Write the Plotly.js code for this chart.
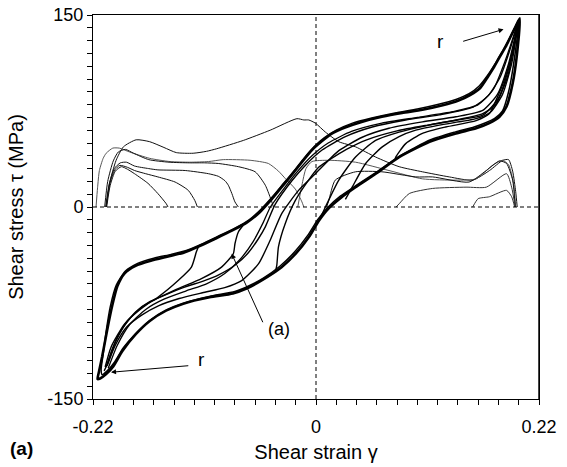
<!DOCTYPE html>
<html>
<head>
<meta charset="utf-8">
<script src="https://cdn.plot.ly/plotly-3.0.1.min.js"></script>
<style>html,body{margin:0;padding:0;background:#fff;}#chart{width:567px;height:467px;}</style>
</head>
<body>
<div id="chart"></div>
<script>
// ---- tick definitions ----
const xTickVals = [-0.22,-0.20,-0.18,-0.16,-0.14,-0.12,-0.10,-0.08,-0.06,-0.04,-0.02,0,0.02,0.04,0.06,0.08,0.10,0.12,0.14,0.16,0.18,0.20,0.22];
const xTickText = ['-0.22','','','','','','','','','','','0','','','','','','','','','','','0.22'];
const yTickVals = [-150,-140,-130,-120,-110,-100,-90,-80,-70,-60,-50,-40,-30,-20,-10,0,10,20,30,40,50,60,70,80,90,100,110,120,130,140,150];
const yTickText = ['-150','','','','','','','','','','','','','','','0','','','','','','','','','','','','','','','150'];

// ---- outer hysteresis loop, cycle A (shear strain, shear stress) ----
const loopA_x = [0.201,0.197,0.192,0.187,0.181,0.175,0.169,0.162,0.152,0.14,0.125,0.105,0.085,0.065,0.045,0.03,0.016,0.006,-0.004,-0.014,-0.025,-0.035,-0.045,-0.056,-0.068,-0.083,-0.1,-0.116,-0.13,-0.145,-0.163,-0.178,-0.189,-0.196,-0.201,-0.206,-0.211,-0.2145,-0.2155,-0.213,
  -0.207,-0.2,-0.191,-0.178,-0.164,-0.148,-0.131,-0.105,-0.082,-0.068,-0.054,-0.034,-0.02,-0.007,0.003,0.0125,0.025,0.039,0.059,0.082,0.112,0.138,0.158,0.171,0.181,0.188,0.194,0.198,0.201];
const loopA_y = [147.5,141,133,125,117,108.5,101,93,87.5,83,79.5,76,73.5,70.5,66.5,62.5,57.5,51.5,44.5,35,24,14.5,5,-4.5,-12,-18.5,-25,-31,-35.5,-38.5,-42,-46,-52,-62,-77,-96,-117,-130,-134.5,-134,
  -130.5,-124.5,-112.5,-99.5,-89,-81,-75.5,-70.5,-67.5,-63.5,-57.5,-47,-36.5,-23.5,-10.5,-1,7.5,15.5,26,39,51,57.5,61.5,65.5,70.5,78.5,96.5,117.5,147.5];

// ---- outer loop, cycle B ----
const loopB_x = [0.2,0.195,0.189,0.183,0.176,0.169,0.161,0.151,0.138,0.12,0.1,0.078,0.055,0.036,0.02,0.008,-0.002,-0.012,-0.022,-0.033,-0.043,-0.054,-0.066,-0.08,-0.097,-0.113,-0.128,-0.143,-0.16,-0.176,-0.188,-0.197,-0.203,-0.207,-0.21,-0.212,-0.211,
  -0.206,-0.199,-0.19,-0.176,-0.162,-0.146,-0.128,-0.103,-0.08,-0.066,-0.052,-0.036,-0.021,-0.008,0.002,0.012,0.024,0.04,0.06,0.084,0.113,0.137,0.156,0.168,0.176,0.184,0.19,0.195,0.2];
const loopB_y = [146,138.5,129,120.5,111,102.5,94.5,88.5,84,80,76.5,73.5,69.5,65.5,60,54,47,38,28,17.5,8,-1.5,-10,-16.5,-23,-29,-34,-37,-40,-44,-50,-61,-78,-97,-115,-127,-131,
  -128,-121.5,-110,-97.5,-87.5,-80,-74.5,-69.5,-66,-61.5,-55.5,-46.5,-35,-22,-9.5,0,8.5,17,27.5,40.5,52.5,58.5,62.5,66,69,75,90,112,146];

// ---- inner reloading / unloading curves ----
const in1_x = [-0.207,-0.2005,-0.191,-0.178,-0.164,-0.148,-0.131,-0.11,-0.096,-0.08,-0.067,-0.057,-0.05,-0.0403,-0.0238,-0.0106,0.006,0.029,0.0555,0.0885,0.1216,0.155,0.17,0.182,0.191,0.2];
const in1_y = [-125,-110,-95,-82,-74,-68.5,-63,-57.5,-53,-45.5,-36,-25,-15.5,2,20.5,32.5,44.5,55,62.5,68,72,78,87,102,122,146];
const in2_x = [-0.206,-0.198,-0.187,-0.172,-0.155,-0.135,-0.112,-0.09,-0.0733,-0.0568,-0.0452,-0.0337,-0.0172,-0.0006,0.0225,0.0456,0.072,0.105,0.138,0.1645,0.179,0.19,0.2];
const in2_y = [-124,-108,-94,-84.5,-77,-71.5,-67,-63,-57.5,-44.5,-26,-5,13,26,44,54.5,61.5,66.5,70.5,75.5,88,112,146];
const in3_x = [0.004,0.0093,0.0225,0.039,0.0588,0.082,0.1116,0.138,0.1645,0.177,0.189,0.2];
const in3_y = [-9,0,21,39,52,58.5,64,68,73,80,102,146];
const in4_x = [0.029,0.0357,0.049,0.0654,0.082,0.0984,0.1216,0.158,0.172,0.184,0.193,0.2];
const in4_y = [6,15.5,34,47,55,60,64,69,74,88,112,146];
const in5_x = [0.078,0.0787,0.0885,0.105,0.128,0.158,0.1711,0.1777,0.187,0.195,0.2];
const in5_y = [37,39,49.5,57.5,62.5,67.5,73,83.5,102,125,146];
const in6_x = [-0.04,-0.0386,-0.037,-0.0304,-0.0205,-0.0073,0.0026,0.0126,0.03,0.05,0.08,0.11,0.14,0.165,0.18,0.19,0.2];
const in6_y = [-51,-45,-31,-13,5,21,31,36.5,45,52.5,59.5,64,68,72,85,108,146];
const in7_x = [-0.205,-0.196,-0.184,-0.168,-0.15,-0.128,-0.108,-0.09,-0.075,-0.062,-0.052,-0.045,-0.032,-0.018,-0.004,0.012,0.035,0.065,0.1,0.135,0.16,0.175,0.187,0.2];
const in7_y = [-126,-108,-92,-80,-72,-65.5,-60,-52,-41,-27,-12,0,14,28,40,50,59,65.5,70,74.5,80,92,115,146];

// ---- partial unloading paths (lower left) ----
const partA_x = [-0.072,-0.0766,-0.0799,-0.0816,-0.0932,-0.113,-0.1394,-0.1658,-0.1856,-0.1972,-0.2055,-0.209];
const partA_y = [-14.5,-19.5,-28.5,-36.5,-47,-56,-65,-75.5,-88.5,-104,-122,-128];
const partB_x = [-0.116,-0.118,-0.1229,-0.136,-0.156,-0.1724,-0.189,-0.2022,-0.208];
const partB_y = [-31,-35,-47,-57.5,-70.5,-78.5,-91.5,-109.5,-125];

// ---- thin curves ----
const thin1_x = [-0.207,-0.2038,-0.1972,-0.19,-0.1774,-0.164,-0.15,-0.1378,-0.1212,-0.108,-0.098,-0.0717,-0.0452,-0.0188,-0.012,-0.0072,-0.0006,0.0093,0.0225,0.039,0.0589,0.082,0.105,0.1315,0.1546,0.1712,0.1843,0.19,0.194,0.197,0.1985];
const thin1_y = [0,18,36.5,47,52.5,51,46.5,42.5,42,43.5,45.5,52,60,69,68,68,65.5,58.5,51,47,39,31.5,27.5,23.5,21,28.5,36.5,37,28,12,0];
const thin2_x = [-0.217,-0.2155,-0.2137,-0.21,-0.207,-0.2005,-0.194,-0.184,-0.164,-0.144,-0.1245,-0.106,-0.0915,-0.065,-0.047,-0.037,-0.03,-0.0204,-0.0139,-0.012];
const thin2_y = [0,15,28.5,38,42,46,46,43,38,35.5,35,35.5,37,36.5,34,28,22,14,4,0];
const thin3_x = [-0.2085,-0.2055,-0.2,-0.195,-0.188,-0.18,-0.165,-0.145,-0.125,-0.11,-0.0964,-0.0766,-0.06,-0.05,-0.0436,-0.042];
const thin3_y = [0,20,36,43,45,42,37,35,34.5,34.5,34,31.5,27.5,17,4,0];
const thin4_x = [-0.2075,-0.204,-0.199,-0.193,-0.187,-0.179,-0.165,-0.156,-0.129,-0.106,-0.0964,-0.0898,-0.0865,-0.083,-0.08,-0.0766];
const thin4_y = [0,18,30,34.5,35,32,30,29,28.5,26,24,20.5,17,10.5,4,0];
const thin5_x = [-0.207,-0.2035,-0.1985,-0.1935,-0.186,-0.179,-0.168,-0.156,-0.139,-0.126,-0.1195,-0.117];
const thin5_y = [0,18,29,32.5,31,28.5,26,23.5,19.5,13,5,0];
const thin6_x = [-0.2065,-0.203,-0.198,-0.192,-0.186,-0.179,-0.1658,-0.156,-0.1477,-0.146];
const thin6_y = [0,17,28,31.5,29.5,26,18.5,10.5,2.5,0];
const thin7_x = [-0.018,-0.0139,-0.0099,-0.004,0.0126,0.039,0.072,0.105,0.138,0.158,0.174,0.184,0.19,0.195,0.197];
const thin7_y = [0,17,30,35.5,36.5,35,28.5,22,21,22,32.5,36.5,33,18,0];
const thin8_x = [0.0105,0.0126,0.019,0.039,0.065,0.0985,0.115,0.151,0.168,0.181,0.188,0.194,0.1965];
const thin8_y = [0,5,21,27.5,27.5,23.5,23.5,19.5,28.5,36,34,21,0];
const thin9_x = [0.079,0.082,0.092,0.115,0.148,0.168,0.188,0.193,0.1965];
const thin9_y = [0,2.5,10.5,14.5,15.5,15.5,26,15.5,0];
const thin10_x = [0.1546,0.16,0.171,0.188,0.193,0.196];
const thin10_y = [0,6.5,8,13,8,0];

function line(x, y, w, c) {
  return {x: x, y: y, type: 'scatter', mode: 'lines', line: {color: c, width: w, shape: 'spline', smoothing: 0.6}, hoverinfo: 'skip', showlegend: false};
}

const traces = [
  line(thin1_x, thin1_y, 1, '#111'),
  line(thin2_x, thin2_y, 1, '#555'),
  line(thin3_x, thin3_y, 1, '#111'),
  line(thin4_x, thin4_y, 1, '#111'),
  line(thin5_x, thin5_y, 1, '#111'),
  line(thin6_x, thin6_y, 1, '#111'),
  line(thin7_x, thin7_y, 1, '#555'),
  line(thin8_x, thin8_y, 1, '#111'),
  line(thin9_x, thin9_y, 1, '#333'),
  line(thin10_x, thin10_y, 1, '#333'),
  line(in1_x, in1_y, 1.4, '#000'),
  line(in2_x, in2_y, 1.4, '#000'),
  line(in3_x, in3_y, 1.4, '#000'),
  line(in4_x, in4_y, 1.4, '#000'),
  line(in5_x, in5_y, 1.4, '#000'),
  line(in6_x, in6_y, 1.4, '#000'),
  line(in7_x, in7_y, 1.3, '#000'),
  line(partA_x, partA_y, 1.4, '#000'),
  line(partB_x, partB_y, 1.4, '#000'),
  line(loopB_x, loopB_y, 1.5, '#000'),
  line(loopA_x, loopA_y, 2.6, '#000')
];

const layout = {
  width: 567, height: 467,
  margin: {l: 93, r: 28, t: 15, b: 68},
  paper_bgcolor: '#fff', plot_bgcolor: '#fff',
  font: {family: 'Arial, "Liberation Sans", sans-serif', color: '#000'},
  showlegend: false,
  hovermode: false,
  xaxis: {
    range: [-0.22, 0.22], tickmode: 'array', tickvals: xTickVals, ticktext: xTickText,
    ticks: 'outside', ticklen: 5, tickwidth: 1, tickcolor: '#000',
    showline: true, linecolor: '#000', linewidth: 1, mirror: true,
    showgrid: false, zeroline: false, tickfont: {size: 18}, ticklabelstandoff: 6,
    title: {text: 'Shear strain γ', font: {size: 20}, standoff: 9}
  },
  yaxis: {
    range: [-150, 150], tickmode: 'array', tickvals: yTickVals, ticktext: yTickText,
    ticks: 'outside', ticklen: 5, tickwidth: 1, tickcolor: '#000',
    showline: true, linecolor: '#000', linewidth: 1, mirror: true,
    showgrid: false, zeroline: false, tickfont: {size: 18},
    title: {text: 'Shear stress τ (MPa)', font: {size: 20}, standoff: 18}
  },
  shapes: [
    {type: 'line', xref: 'x', yref: 'y', x0: 0, x1: 0, y0: -150, y1: 150, line: {color: '#000', width: 1, dash: '4px,3px'}},
    {type: 'line', xref: 'x', yref: 'y', x0: -0.22, x1: 0.22, y0: 0, y1: 0, line: {color: '#000', width: 1, dash: '4px,3px'}},
    {type: 'line', xref: 'x', yref: 'y', x0: 0.22, x1: 0.22, y0: -150, y1: 150, line: {color: '#444', width: 2}}
  ],
  annotations: [
    {x: 0.185, y: 138.8, ax: 0.1437, ay: 129.1, axref: 'x', ayref: 'y', xref: 'x', yref: 'y', showarrow: true, arrowhead: 2, arrowsize: 1, arrowwidth: 1, arrowcolor: '#000', text: ''},
    {x: 0.1233, y: 129.1, xref: 'x', yref: 'y', text: 'r', showarrow: false, font: {size: 19}},
    {x: -0.2022, y: -129.1, ax: -0.1245, ay: -123.9, axref: 'x', ayref: 'y', xref: 'x', yref: 'y', showarrow: true, arrowhead: 2, arrowsize: 1, arrowwidth: 1, arrowcolor: '#000', text: ''},
    {x: -0.113, y: -119.4, xref: 'x', yref: 'y', text: 'r', showarrow: false, font: {size: 19}},
    {x: -0.0832, y: -36.5, ax: -0.0518, ay: -91.2, axref: 'x', ayref: 'y', xref: 'x', yref: 'y', showarrow: true, arrowhead: 2, arrowsize: 1, arrowwidth: 1, arrowcolor: '#000', text: ''},
    {x: -0.037, y: -95.2, xref: 'x', yref: 'y', text: '(a)', showarrow: false, font: {size: 18}},
    {x: -0.16, y: -0.128, xref: 'paper', yref: 'paper', text: '<b>(a)</b>', showarrow: false, font: {size: 19}, xanchor: 'center', yanchor: 'middle'}
  ]
};

Plotly.newPlot('chart', traces, layout, {displayModeBar: false, staticPlot: true});
</script>
</body>
</html>
